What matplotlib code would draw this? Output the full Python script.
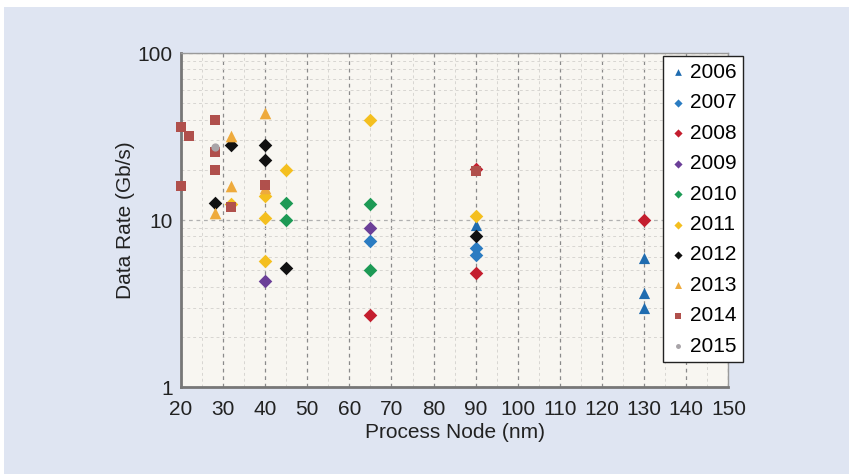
import numpy as np
import matplotlib.pyplot as plt
from matplotlib.patches import Rectangle
from matplotlib.ticker import FixedLocator, NullFormatter, LogLocator

plt.rcParams['font.family'] = ['Liberation Sans', 'DejaVu Sans']

years = ['2006', '2007', '2008', '2009', '2010', '2011', '2012', '2013', '2014', '2015']

# process node (nm) and data rate (Gb/s) per year
node_2006 = [90, 130, 130, 130]
rate_2006 = [9.3, 5.9, 3.65, 3.0]
node_2007 = [65, 90, 90]
rate_2007 = [7.5, 6.8, 6.2]
node_2008 = [65, 90, 90, 130]
rate_2008 = [2.7, 20.3, 4.8, 10]
node_2009 = [40, 65]
rate_2009 = [4.3, 9.0]
node_2010 = [45, 45, 65, 65]
rate_2010 = [12.6, 10, 12.5, 5.0]
node_2011 = [32, 40, 40, 40, 45, 65, 90]
rate_2011 = [12.5, 14, 10.3, 5.7, 20, 40, 10.6]
node_2012 = [28, 32, 40, 40, 45, 90]
rate_2012 = [12.7, 28, 28, 23, 5.2, 8.0]
node_2013 = [28, 32, 32, 40, 40]
rate_2013 = [11, 32, 16, 44, 15.5]
node_2014 = [20, 20, 22, 28, 28, 28, 32, 40, 90]
rate_2014 = [36, 16, 32, 40, 20, 25.5, 12, 16.3, 19.6]
node_2015 = [28]
rate_2015 = [27.5]

xs = [node_2006, node_2007, node_2008, node_2009, node_2010,
      node_2011, node_2012, node_2013, node_2014, node_2015]
ys = [rate_2006, rate_2007, rate_2008, rate_2009, rate_2010,
      rate_2011, rate_2012, rate_2013, rate_2014, rate_2015]
colors = ['#1f6cb0', '#2b7cc2', '#c41e2e', '#6b3f98', '#1d9a55',
          '#f4bf1f', '#111111', '#eeaa3c', '#b0504c', '#a8a4a8']
markers = ['^', 'D', 'D', 'D', 'D', 'D', 'D', '^', 's', 'o']
sizes = [65, 48, 48, 48, 48, 48, 48, 70, 45, 35]

fig = plt.figure(figsize=(8.49, 4.74), dpi=100, facecolor='white')
# light blue panel with thin white margin at top and left
fig.patches.append(Rectangle((4 / 849, -0.1), 1.1, 1.1 - 7 / 474, transform=fig.transFigure,
                             facecolor='#dfe5f2', edgecolor='none', zorder=-10))

ax = fig.add_axes([0.213, 0.183, 0.645, 0.705])
ax.set_facecolor('#f8f6f1')

for i in range(len(years)):
    ax.scatter(xs[i], ys[i], c=colors[i], marker=markers[i], s=sizes[i],
               label=years[i], zorder=3, linewidths=0, clip_on=False)

ax.set_yscale('log')
ax.set_xlim(20, 150)
ax.set_ylim(1, 100)
ax.xaxis.set_major_locator(FixedLocator(np.arange(20, 151, 10)))
ax.xaxis.set_minor_locator(FixedLocator(np.arange(25, 150, 10)))
ax.yaxis.set_major_locator(FixedLocator([1, 10, 100]))
ax.yaxis.set_minor_locator(LogLocator(base=10, subs=np.arange(2, 10)))
ax.yaxis.set_minor_formatter(NullFormatter())
ax.set_yticklabels(['1', '10', '100'])

ax.grid(True, which='major', axis='x', linestyle=(0, (3, 3)), color='#8a8a8a', lw=0.9)
ax.grid(True, which='major', axis='y', linestyle=(0, (3, 3)), color='#b0b0b0', lw=0.9)
ax.grid(True, which='minor', linestyle=(0, (3, 3)), color='#d8d6d2', lw=0.7)
ax.tick_params(which='both', length=0, labelsize=15, colors='#222222')
ax.tick_params(axis='x', pad=9)
ax.tick_params(axis='y', pad=6)

for s in ['top', 'right']:
    ax.spines[s].set_color('#9a9a9a')
    ax.spines[s].set_linewidth(1.0)
for s in ['left', 'bottom']:
    ax.spines[s].set_color('#777777')
    ax.spines[s].set_linewidth(2.0)

ax.set_xlabel('Process Node (nm)', fontsize=15, color='#222222', labelpad=3)
ax.set_ylabel('Data Rate (Gb/s)', fontsize=15, color='#222222', labelpad=2)

leg = ax.legend(loc='upper right', bbox_to_anchor=(1.026, 0.99), fontsize=15,
                frameon=True, fancybox=False, edgecolor='#222222', framealpha=1,
                handletextpad=0.1, labelspacing=0.55, borderpad=0.3,
                handlelength=0.9, markerscale=0.6, borderaxespad=0)
leg.get_frame().set_linewidth(1.0)
leg.set_zorder(5)

fig.savefig('out.png', dpi=100, facecolor=fig.get_facecolor())
